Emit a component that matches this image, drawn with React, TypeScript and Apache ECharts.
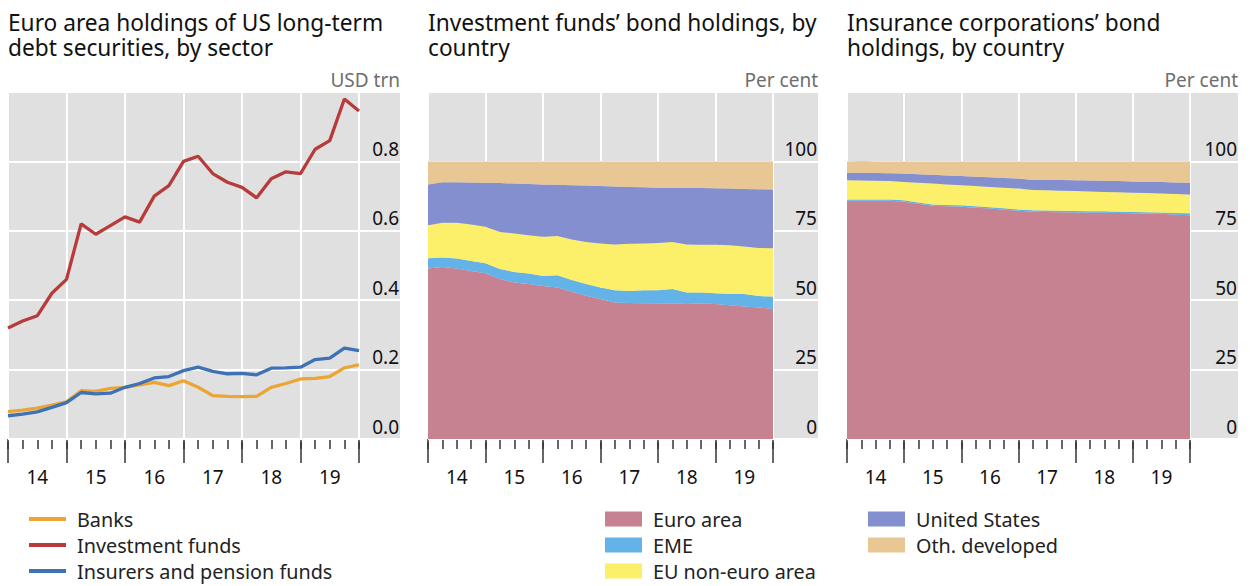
import React, { useEffect, useRef } from 'react';
import * as echarts from 'echarts';

// ---------- data ----------
const quarters = [
  '2013Q4',
  '2014Q1', '2014Q2', '2014Q3', '2014Q4',
  '2015Q1', '2015Q2', '2015Q3', '2015Q4',
  '2016Q1', '2016Q2', '2016Q3', '2016Q4',
  '2017Q1', '2017Q2', '2017Q3', '2017Q4',
  '2018Q1', '2018Q2', '2018Q3', '2018Q4',
  '2019Q1', '2019Q2', '2019Q3', '2019Q4',
];
const yearLabels = ['14', '15', '16', '17', '18', '19'];

// Panel 1: USD trn
const banks = [0.079, 0.083, 0.089, 0.098, 0.107, 0.139, 0.137, 0.146, 0.149, 0.156, 0.163, 0.154, 0.168, 0.149, 0.125, 0.123, 0.122, 0.123, 0.149, 0.16, 0.173, 0.175, 0.18, 0.205, 0.214];
const investmentFunds = [0.32, 0.34, 0.355, 0.42, 0.46, 0.62, 0.59, 0.615, 0.64, 0.625, 0.7, 0.73, 0.8, 0.815, 0.765, 0.74, 0.725, 0.695, 0.75, 0.77, 0.765, 0.835, 0.86, 0.98, 0.945];
const insurers = [0.067, 0.072, 0.078, 0.091, 0.105, 0.134, 0.13, 0.132, 0.149, 0.16, 0.176, 0.18, 0.197, 0.207, 0.195, 0.188, 0.189, 0.185, 0.204, 0.205, 0.207, 0.229, 0.233, 0.262, 0.255];

// Panel 2: investment funds, per cent
const ifEuroArea = [61.4, 62.0, 61.4, 60.5, 59.7, 57.6, 56.4, 55.8, 55.1, 54.6, 53.0, 51.6, 50.4, 49.2, 49.0, 48.9, 48.9, 48.8, 48.6, 48.8, 48.6, 48.2, 47.7, 47.4, 46.8];
const ifEME = [3.7, 3.4, 3.6, 3.6, 3.6, 3.6, 3.8, 3.8, 3.6, 4.4, 4.3, 4.2, 4.2, 4.4, 4.3, 4.7, 4.7, 5.2, 4.2, 4.0, 3.9, 4.0, 4.5, 4.1, 4.5];
const ifEUNonEuro = [11.9, 12.5, 12.9, 13.2, 13.2, 13.4, 13.8, 13.8, 14.2, 14.1, 14.6, 15.2, 15.8, 16.5, 17.0, 16.8, 17.0, 17.0, 17.3, 17.2, 17.5, 17.6, 17.1, 17.3, 17.4];
const ifUS = [14.7, 14.6, 14.6, 15.1, 15.8, 17.6, 18.0, 18.5, 18.8, 18.5, 19.5, 20.3, 20.7, 20.9, 20.5, 20.3, 19.9, 19.5, 20.3, 20.4, 20.3, 20.4, 20.8, 21.2, 21.2];
const ifOthDeveloped = [8.3, 7.5, 7.5, 7.6, 7.7, 7.8, 8.0, 8.1, 8.3, 8.4, 8.6, 8.7, 8.9, 9.0, 9.2, 9.3, 9.5, 9.5, 9.6, 9.6, 9.7, 9.8, 9.9, 10.0, 10.1];

// Panel 3: insurance corporations, per cent
const icEuroArea = [85.8, 85.8, 85.8, 85.8, 85.5, 84.7, 84.0, 83.8, 83.7, 83.3, 83.0, 82.6, 82.2, 81.9, 81.8, 81.7, 81.6, 81.5, 81.5, 81.4, 81.3, 81.2, 81.1, 80.8, 80.6];
const icEME = [0.5, 0.5, 0.5, 0.5, 0.5, 0.5, 0.5, 0.5, 0.5, 0.5, 0.5, 0.5, 0.5, 0.5, 0.5, 0.5, 0.5, 0.5, 0.5, 0.5, 0.5, 0.5, 0.5, 0.6, 0.7];
const icEUNonEuro = [6.9, 6.8, 6.7, 6.6, 6.6, 7.1, 7.5, 7.4, 7.2, 7.3, 7.3, 7.4, 7.5, 7.3, 7.3, 7.2, 7.2, 7.2, 7.0, 7.0, 6.9, 6.9, 6.8, 6.9, 6.8];
const icUS = [2.7, 2.8, 2.8, 2.8, 3.0, 3.1, 3.2, 3.2, 3.3, 3.4, 3.5, 3.5, 3.6, 3.6, 3.7, 3.9, 3.9, 3.9, 4.0, 4.0, 4.1, 4.1, 4.2, 4.1, 4.2];
const icOthDeveloped = [4.1, 4.2, 4.2, 4.3, 4.4, 4.6, 4.8, 5.1, 5.3, 5.5, 5.7, 6.0, 6.2, 6.7, 6.7, 6.7, 6.8, 6.9, 7.0, 7.1, 7.2, 7.3, 7.4, 7.6, 7.7];

const titleLines = [
  ['Euro area holdings of US long-term', 'debt securities, by sector'],
  ['Investment funds\u2019 bond holdings, by', 'country'],
  ['Insurance corporations\u2019 bond', 'holdings, by country'],
];
const units = ['USD trn', 'Per cent', 'Per cent'];

// ---------- styles ----------
const FONT = '"Noto Sans", "Open Sans", sans-serif';
const BG = '#e0e0e0';
const C = {
  banks: '#eba534',
  inv: '#b83b3b',
  ins: '#3f71b5',
  euro: '#c78292',
  eme: '#64b3e8',
  eu: '#fcf06a',
  us: '#848fd0',
  oth: '#e9c794',
};

const panels = [
  { left: 8, plotW: 351, totalW: 392, max: 1, interval: 0.2, dec: 1 },
  { left: 428, plotW: 345, totalW: 390, max: 125, interval: 25, dec: 0 },
  { left: 847, plotW: 343, totalW: 391, max: 125, interval: 25, dec: 0 },
];
const TOP = 92;
const H = 347;
const W = 1250;

function buildOption() {
  const grid: any[] = [];
  const xAxis: any[] = [];
  const yAxis: any[] = [];
  panels.forEach((p, i) => {
    grid.push({ left: p.left, top: TOP, width: p.totalW, height: H, show: true, backgroundColor: BG, borderWidth: 0 });
    grid.push({ left: p.left, top: TOP, width: p.plotW, height: H, show: false });
    // bg x (hidden)
    xAxis.push({ type: 'value', gridIndex: 2 * i, show: false, min: 0, max: 1 });
    // minor ticks
    xAxis.push({
      type: 'category', gridIndex: 2 * i + 1, data: quarters, boundaryGap: false, position: 'bottom', offset: 3,
      axisLine: { show: false },
      axisTick: { show: true, interval: 0, length: 10, lineStyle: { color: '#333', width: 1.5 } },
      axisLabel: { show: false }, splitLine: { show: false },
    });
    // major ticks + labels + vertical grid
    xAxis.push({
      type: 'category', gridIndex: 2 * i + 1, data: quarters, boundaryGap: false, position: 'bottom', offset: 3, z: 1,
      axisLine: { show: false },
      axisTick: { show: true, interval: (idx: number) => idx % 4 === 0, length: 21, lineStyle: { color: '#333', width: 1.5 } },
      axisLabel: {
        show: true, interval: (idx: number) => idx % 4 === 2, margin: 25,
        formatter: (_v: string, idx: number) => yearLabels[Math.floor(idx / 4)],
        fontSize: 19, color: '#111', fontFamily: FONT,
      },
      splitLine: { show: true, interval: (idx: number) => idx % 4 === 0, lineStyle: { color: '#fff', width: 2 } },
    });
    yAxis.push({
      type: 'value', gridIndex: 2 * i, position: 'right', min: 0, max: p.max, interval: p.interval, z: 1,
      axisLine: { show: false }, axisTick: { show: false },
      axisLabel: {
        inside: true, margin: 1, verticalAlign: 'bottom', showMaxLabel: false,
        formatter: (v: number) => (v >= p.max ? '' : v.toFixed(p.dec)),
        fontSize: 19, color: '#111', fontFamily: FONT, padding: [0, 0, 3, 0],
      },
      splitLine: { show: true, lineStyle: { color: '#fff', width: 2 } },
    });
    yAxis.push({ type: 'value', gridIndex: 2 * i + 1, min: 0, max: p.max, show: false, splitLine: { show: false } });
  });

  const lineSeries = (name: string, data: number[], color: string) => ({
    type: 'line', name, data, xAxisIndex: 2, yAxisIndex: 1, color,
    showSymbol: false, symbol: 'none', lineStyle: { width: 3.3, color },
  });
  const areaSeries = (name: string, data: number[], color: string, panel: number) => ({
    type: 'line', name, data, xAxisIndex: panel * 3 + 2, yAxisIndex: panel * 2 + 1, color,
    stack: 'p' + panel, showSymbol: false, symbol: 'none',
    lineStyle: { width: 0 }, areaStyle: { color, opacity: 1 },
  });

  const series = [
    lineSeries('Banks', banks, C.banks),
    lineSeries('Investment funds', investmentFunds, C.inv),
    lineSeries('Insurers and pension funds', insurers, C.ins),
    areaSeries('Euro area', ifEuroArea, C.euro, 1),
    areaSeries('EME', ifEME, C.eme, 1),
    areaSeries('EU non-euro area', ifEUNonEuro, C.eu, 1),
    areaSeries('United States', ifUS, C.us, 1),
    areaSeries('Oth. developed', ifOthDeveloped, C.oth, 1),
    areaSeries('Euro area', icEuroArea, C.euro, 2),
    areaSeries('EME', icEME, C.eme, 2),
    areaSeries('EU non-euro area', icEUNonEuro, C.eu, 2),
    areaSeries('United States', icUS, C.us, 2),
    areaSeries('Oth. developed', icOthDeveloped, C.oth, 2),
  ];

  const legendText = { fontSize: 19.8, color: '#222', fontFamily: FONT, padding: [0, 0, 0, 6] };
  const legendBase = { orient: 'vertical', top: 509, padding: 0, icon: 'rect', itemWidth: 37, itemGap: 6, textStyle: legendText, selectedMode: false };
  const legend = [
    { ...legendBase, data: ['Banks', 'Investment funds', 'Insurers and pension funds'], left: 29, itemHeight: 4 },
    { ...legendBase, data: ['Euro area', 'EME', 'EU non-euro area'], left: 605, itemHeight: 15 },
    { ...legendBase, data: ['United States', 'Oth. developed'], left: 868, itemHeight: 15 },
  ];

  const title: any[] = [];
  titleLines.forEach((lines, i) => {
    lines.forEach((t, j) => {
      title.push({
        text: t, left: panels[i].left, top: 10 + j * 25, padding: 0,
        textStyle: { fontSize: 22.7, lineHeight: 24, fontWeight: 'normal', color: '#111', fontFamily: FONT },
      });
    });
  });
  units.forEach((u, i) => {
    const p = panels[i];
    title.push({
      text: u, right: W - (p.left + p.totalW), top: 70, padding: 0,
      textStyle: { fontSize: 19, fontWeight: 'normal', color: '#6e6e6e', fontFamily: FONT },
    });
  });

  return {
    animation: false,
    textStyle: { fontFamily: FONT },
    title, grid, xAxis, yAxis, series, legend,
  };
}

export default function App() {
  const ref = useRef<HTMLDivElement>(null);
  useEffect(() => {
    if (!ref.current) return;
    const chart = echarts.init(ref.current, undefined, { renderer: 'svg' });
    chart.setOption(buildOption() as any);
    return () => chart.dispose();
  }, []);
  return (
    <div
      ref={ref}
      style={{ position: 'absolute', left: 0, top: 0, width: W, height: 586, background: '#fff' }}
    />
  );
}
